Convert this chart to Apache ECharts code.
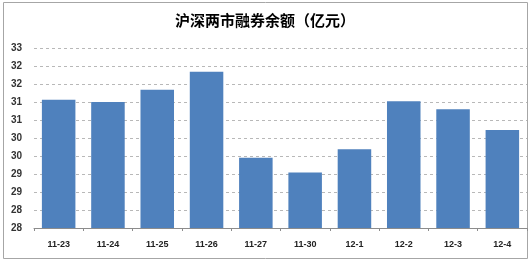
<!DOCTYPE html>
<html>
<head>
<meta charset="utf-8">
<script src="https://cdn.jsdelivr.net/npm/echarts@6/dist/echarts.min.js"></script>
<style>html,body{margin:0;padding:0;background:#fff;}#c{width:530px;height:261px;}</style>
</head>
<body>
<div id="c"></div>
<script>
var titleText = '沪深两市融券余额（亿元）';
var categories = ['11-23','11-24','11-25','11-26','11-27','11-30','12-1','12-2','12-3','12-4'];
var values = [31.56, 31.50, 31.84, 32.34, 29.95, 29.54, 30.19, 31.52, 31.30, 30.72];
var yMin = 28, yMax = 33, yStep = 0.5;

var chart = echarts.init(document.getElementById('c'), null, {renderer:'canvas'});
chart.setOption({
  animation: false,
  backgroundColor: '#fff',
  title: {
    text: titleText, left: 'center', top: 8,
    textStyle: {fontFamily: 'Noto Sans CJK SC', fontSize: 15, fontWeight: 'bold', color: '#000'}
  },
  graphic: [{
    type: 'rect', shape: {x: 3.5, y: 2.5, width: 524, height: 256},
    style: {fill: 'none', stroke: '#a6a6a6', lineWidth: 1}, silent: true, z: -1
  }],
  grid: {left: 34, right: 3, top: 48, bottom: 33, containLabel: false},
  xAxis: {
    type: 'category', data: categories,
    axisLine: {lineStyle: {color: '#8c8c8c'}},
    axisTick: {show: true, length: 3, lineStyle: {color: '#8c8c8c'}},
    axisLabel: {margin: 12, fontSize: 9, fontWeight: 'bold', color: '#222', fontFamily: 'Liberation Sans'}
  },
  yAxis: {
    type: 'value', min: yMin, max: yMax, interval: yStep,
    axisLine: {show: false}, axisTick: {show: false},
    splitLine: {lineStyle: {color: '#b8b8b8', type: [3, 3]}},
    axisLabel: {margin: 12, fontSize: 10, fontWeight: 'bold', color: '#333', fontFamily: 'Liberation Sans',
      formatter: function(v){ return String(Math.floor(v + 1e-9)); }}
  },
  series: [{
    type: 'bar', data: values, barWidth: '68%',
    itemStyle: {color: '#4F81BD'}
  }]
});
</script>
</body>
</html>
